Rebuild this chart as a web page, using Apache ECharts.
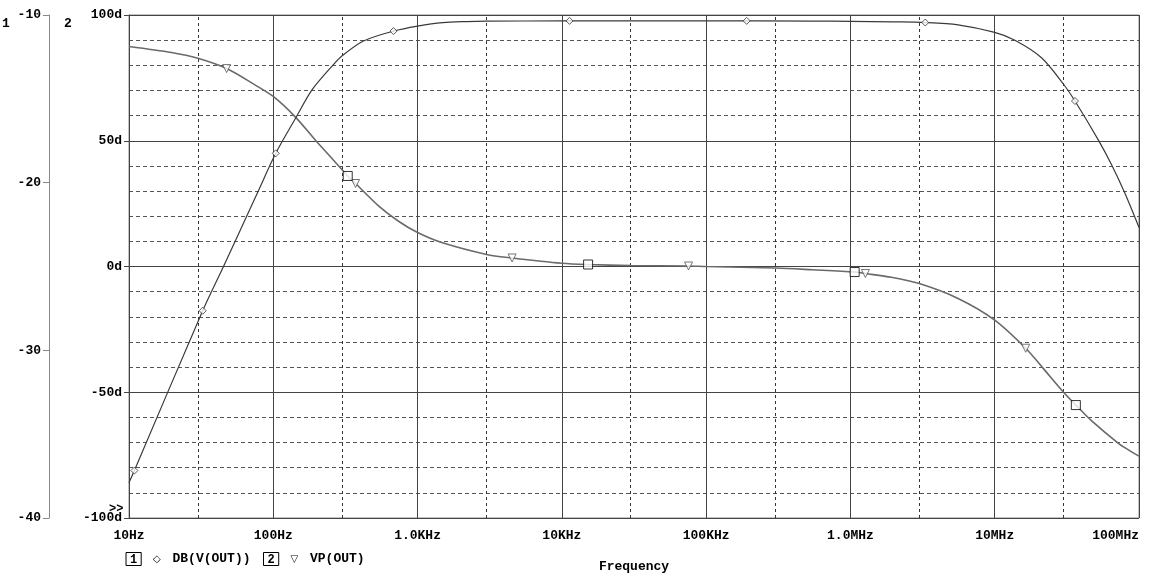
<!DOCTYPE html>
<html>
<head>
<meta charset="utf-8">
<script src="https://cdn.jsdelivr.net/npm/echarts@6/dist/echarts.min.js"></script>
<style>
html,body{margin:0;padding:0;background:#fff;overflow:hidden;}
#chart{width:1150px;height:578px;}
</style>
</head>
<body>
<div id="chart"></div>
<script>
// ---- data ----
const dbFreqs = [10, 10.9, 32.4, 45, 60, 78.7, 104, 144, 185, 261, 300, 422, 681, 1000, 1490, 2200, 3000, 10000, 100000, 545000, 1e6, 2e6, 3.3e6, 5.57e6, 1e7, 1.38e7, 2.11e7, 3e7, 3.6e7, 5.22e7, 6.47e7, 8e7, 1e8];
const dbValues = [-37.9, -37.17, -27.64, -25.03, -22.7, -20.5, -18.25, -16.1, -14.48, -12.96, -12.43, -11.55, -10.96, -10.66, -10.45, -10.39, -10.37, -10.35, -10.35, -10.36, -10.38, -10.41, -10.45, -10.59, -11.04, -11.51, -12.55, -14.13, -15.13, -17.45, -18.95, -20.65, -22.67];

const phaseFreqs = [10, 19.7, 30, 47.5, 74.7, 100, 143, 194, 241, 328, 372, 536, 738, 1000, 1490, 3000, 4520, 10000, 15200, 30000, 75500, 100000, 300000, 545000, 1.07e6, 1.27e6, 1.92e6, 3e6, 5.57e6, 1e7, 1.64e7, 2.16e7, 3e7, 3.65e7, 4.7e7, 7.2e7, 8.4e7, 1e8];
const phaseValues = [87.5, 85.1, 82.8, 78.7, 72.2, 67.6, 59.3, 50.5, 44.5, 36.0, 33.0, 24.1, 18.0, 13.5, 9.4, 4.8, 3.4, 1.3, 0.8, 0.4, 0.2, 0, -0.6, -1.3, -2.2, -2.8, -4.3, -6.8, -12.7, -21.3, -32.5, -40.4, -50, -55.1, -61.4, -70.3, -72.8, -75.4];

const dbMarkFreqs = [10.9, 32.4, 104, 681, 11300, 191000, 3.3e6, 3.6e7];
const dbMarkValues = [-37.17, -27.64, -18.25, -10.96, -10.35, -10.35, -10.45, -15.13];

const vpMarkFreqs = [47.5, 372, 4520, 75500, 1.27e6, 1.64e7];
const vpMarkValues = [78.7, 33.0, 3.4, 0.2, -2.8, -32.5];

const cursorFreqs = [328, 15200, 1.07e6, 3.65e7];
const cursorValues = [36.0, 0.8, -2.2, -55.1];

const xTickLabels = ['10Hz', '100Hz', '1.0KHz', '10KHz', '100KHz', '1.0MHz', '10MHz', '100MHz'];
const minorGridFreqs = [30, 300, 3000, 30000, 3e5, 3e6, 3e7];

const traceNames = ['DB(V(OUT))', 'VP(OUT)'];
const xAxisTitle = 'Frequency';

// ---- build ----
const FONT = '"Liberation Mono", "DejaVu Sans Mono", monospace';
const zip = (a, b) => a.map((v, i) => [v, b[i]]);

const chart = echarts.init(document.getElementById('chart'), null, {renderer: 'canvas', width: 1150, height: 578});

const option = {
  animation: false,
  backgroundColor: '#fff',
  textStyle: {fontFamily: FONT, fontWeight: 'bold', fontSize: 13, color: '#000'},
  grid: {left: 129, right: 11, top: 15, bottom: 54, show: true, borderColor: '#888', borderWidth: 1, containLabel: false},
  xAxis: {
    type: 'log', logBase: 10, min: 10, max: 1e8, interval: 1,
    name: xAxisTitle, nameLocation: 'middle', nameGap: 42,
    nameTextStyle: {fontFamily: FONT, fontWeight: 'bold', fontSize: 13, color: '#000'},
    axisLine: {show: true, lineStyle: {color: '#444', width: 1}},
    axisTick: {show: true, length: 5, lineStyle: {color: '#444'}},
    axisLabel: {
      margin: 11, fontFamily: FONT, fontWeight: 'bold', fontSize: 13, color: '#000',
      alignMaxLabel: 'right', alignMinLabel: 'center',
      formatter: v => xTickLabels[Math.round(Math.log10(v)) - 1]
    },
    splitLine: {show: true, lineStyle: {color: '#444', width: 1, type: 'solid'}}
  },
  yAxis: [
    {
      type: 'value', min: -100, max: 100, interval: 50, position: 'left', offset: 0,
      axisLine: {show: true, lineStyle: {color: '#444'}},
      axisTick: {show: true, length: 5, lineStyle: {color: '#444'}},
      axisLabel: {margin: 7, fontFamily: FONT, fontWeight: 'bold', fontSize: 13, color: '#000', formatter: v => v + 'd'},
      splitLine: {show: true, lineStyle: {color: '#444', width: 1}},
      minorTick: {show: false, splitNumber: 5},
      minorSplitLine: {show: true, lineStyle: {color: '#555', width: 1, type: [4, 3]}}
    },
    {
      type: 'value', min: -40, max: -10, interval: 10, position: 'left', offset: 80,
      axisLine: {show: true, lineStyle: {color: '#888'}},
      axisTick: {show: true, length: 6, lineStyle: {color: '#888'}},
      axisLabel: {margin: 8, fontFamily: FONT, fontWeight: 'bold', fontSize: 13, color: '#000'},
      splitLine: {show: false}
    }
  ],
  legend: {
    left: 116, top: 547, itemGap: 8, icon: 'none', itemWidth: 0, itemHeight: 0,
    selectedMode: false,
    data: traceNames,
    formatter: name => name === traceNames[0]
      ? '{box|1} {sym|\u25C7} ' + name
      : '{box|2} {sym|\u25BD} ' + name,
    textStyle: {
      fontFamily: FONT, fontWeight: 'bold', fontSize: 13, color: '#000',
      rich: {
        box: {fontFamily: FONT, fontWeight: 'bold', fontSize: 12, color: '#000', borderColor: '#000', borderWidth: 1, padding: [1, 4, 0, 4]},
        sym: {fontFamily: '"DejaVu Sans"', fontSize: 10, color: '#000', padding: [0, 4, 0, 4]}
      }
    }
  },
  graphic: [
    {type: 'text', left: 2, top: 17, style: {text: '1', font: 'bold 13px ' + FONT, fill: '#000'}},
    {type: 'text', left: 64, top: 17, style: {text: '2', font: 'bold 13px ' + FONT, fill: '#000'}},
    {type: 'text', left: 109, top: 503, style: {text: '>>', font: 'bold 12px ' + FONT, fill: '#000'}}
  ],
  series: [
    {
      name: 'grid-minor', type: 'line', data: [], yAxisIndex: 0, silent: true,
      markLine: {
        silent: true, symbol: 'none', z: 1, animation: false,
        label: {show: false},
        lineStyle: {color: '#333', width: 1, type: [3, 3]},
        data: minorGridFreqs.map(f => ({xAxis: f}))
      }
    },
    {
      name: traceNames[1], type: 'line', yAxisIndex: 0, data: zip(phaseFreqs, phaseValues),
      showSymbol: false, smooth: 0.3, z: 3,
      lineStyle: {color: '#6a6a6a', width: 1.6}
    },
    {
      name: traceNames[0], type: 'line', yAxisIndex: 1, data: zip(dbFreqs, dbValues),
      showSymbol: false, smooth: 0.3, z: 4,
      lineStyle: {color: '#3a3a3a', width: 1.2}
    },
    {
      name: 'db-markers', type: 'scatter', yAxisIndex: 1, data: zip(dbMarkFreqs, dbMarkValues),
      symbol: 'diamond', symbolSize: 7, z: 5,
      itemStyle: {color: '#fff', borderColor: '#333', borderWidth: 1}
    },
    {
      name: 'vp-markers', type: 'scatter', yAxisIndex: 0, data: zip(vpMarkFreqs, vpMarkValues),
      symbol: 'triangle', symbolRotate: 180, symbolSize: 8, z: 5,
      itemStyle: {color: '#fff', borderColor: '#555', borderWidth: 1}
    },
    {
      name: 'cursors', type: 'scatter', yAxisIndex: 0, data: zip(cursorFreqs, cursorValues),
      symbol: 'rect', symbolSize: 9, z: 6,
      itemStyle: {color: '#fff', borderColor: '#000', borderWidth: 1}
    }
  ]
};
chart.setOption(option);
</script>
</body>
</html>
